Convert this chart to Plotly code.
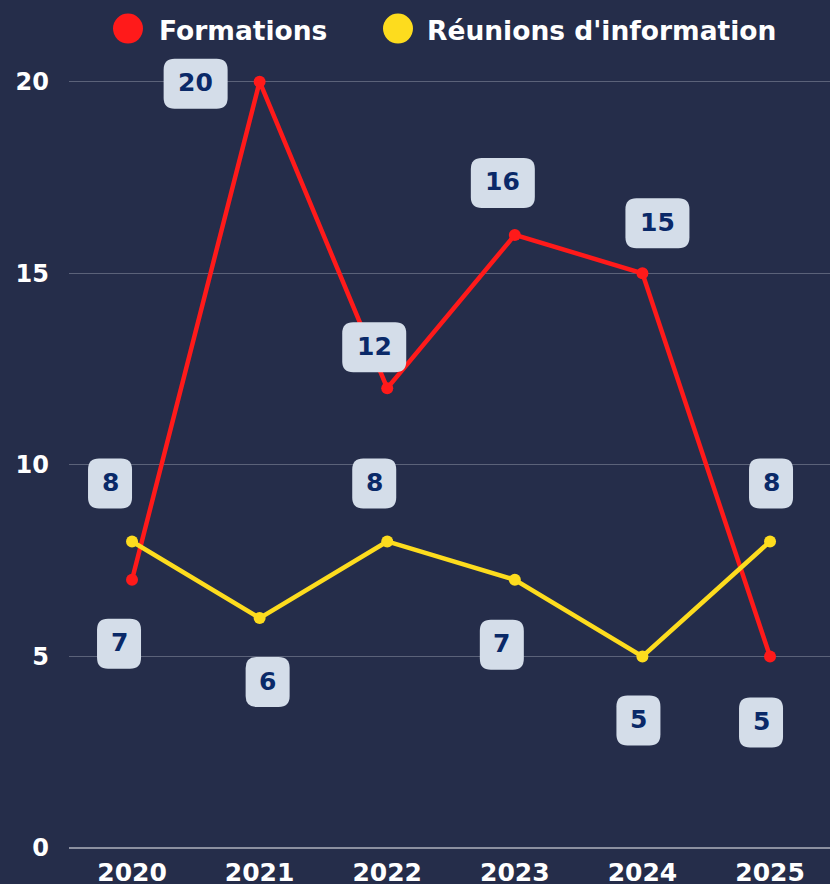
import plotly.graph_objects as go

# ---- data ----
years = [2020, 2021, 2022, 2023, 2024, 2025]
formations = [7, 20, 12, 16, 15, 5]
reunions = [8, 6, 8, 7, 5, 8]
series_names = ["Formations", "Réunions d'information"]
y_ticks = [0, 5, 10, 15, 20]

# ---- style ----
BG = "#252d4a"
RED = "#ff1a1a"
YELLOW = "#fddc1e"
BOX = "#d4dde9"
NAVY = "#0a2968"
GRID = "#5b6279"
FONT = "DejaVu Sans"

W, H = 830, 884
ML, MR, MB = 69, 0, 36
PLOT_TOP = 5.4  # y range extends to 22 so that 20 sits at ~82px
PLOT_BOTTOM = H - MB
PLOT_H = PLOT_BOTTOM - PLOT_TOP
PLOT_W = W - ML - MR

# label offsets in pixels (dx right, dy down) relative to each point
form_off = [(-13, 64), (-64, 2), (-13, -41), (-12, -52), (15, -50), (-9, 66)]
reun_off = [(-22, -58), (8, 64), (-13, -58), (-13, 65), (-4, 64), (1, -58)]

fig = go.Figure()
fig.add_trace(go.Scatter(x=years, y=formations, mode="lines+markers", name=series_names[0],
                         line=dict(color=RED, width=4.5), marker=dict(size=12, color=RED),
                         cliponaxis=False, showlegend=False, hoverinfo="skip"))
fig.add_trace(go.Scatter(x=years, y=reunions, mode="lines+markers", name=series_names[1],
                         line=dict(color=YELLOW, width=4.5), marker=dict(size=12, color=YELLOW),
                         cliponaxis=False, showlegend=False, hoverinfo="skip"))


def rounded_path(w, h, r, dx, dy):
    x0, x1 = -w / 2 + dx, w / 2 + dx
    y0, y1 = -h / 2 - dy, h / 2 - dy
    return (f"M {x0+r},{y0} L {x1-r},{y0} Q {x1},{y0} {x1},{y0+r} "
            f"L {x1},{y1-r} Q {x1},{y1} {x1-r},{y1} L {x0+r},{y1} "
            f"Q {x0},{y1} {x0},{y1-r} L {x0},{y0+r} Q {x0},{y0} {x0+r},{y0} Z")


shapes = []
annotations = []
for vals, offs in ((formations, form_off), (reunions, reun_off)):
    for x, v, (dx, dy) in zip(years, vals, offs):
        txt = str(v)
        w = 24 + 20 * len(txt)
        h = 50
        shapes.append(dict(type="path", xref="x", yref="y", xsizemode="pixel", ysizemode="pixel",
                           xanchor=x, yanchor=v, path=rounded_path(w, h, 11, dx, dy),
                           fillcolor=BOX, line=dict(width=0), layer="above"))
        annotations.append(dict(x=x, y=v, xref="x", yref="y", text=txt, showarrow=False,
                                xshift=dx, yshift=-dy + 1,
                                font=dict(family=FONT, size=25, color=NAVY, weight="bold")))


def px_to_paper(px, py):
    return (px - ML) / PLOT_W, (PLOT_BOTTOM - py) / PLOT_H


# manual legend (large dots)
legend_items = [(series_names[0], RED, 128, 157), (series_names[1], YELLOW, 398, 425)]
for name, col, cx, tx in legend_items:
    ax, ay = px_to_paper(cx, 29)
    shapes.append(dict(type="circle", xref="paper", yref="paper", xsizemode="pixel", ysizemode="pixel",
                       xanchor=ax, yanchor=ay,
                       x0=-15, x1=15, y0=-15, y1=15, fillcolor=col, line=dict(width=0)))
    tx_p, ty_p = px_to_paper(tx, 31)
    annotations.append(dict(x=tx_p, y=ty_p, xref="paper", yref="paper",
                            xanchor="left", yanchor="middle", text=name, showarrow=False,
                            font=dict(family=FONT, size=26.5, color="white", weight="bold")))

fig.update_layout(
    width=W, height=H,
    margin=dict(l=ML, r=MR, t=PLOT_TOP, b=MB, autoexpand=False),
    paper_bgcolor=BG, plot_bgcolor=BG,
    showlegend=False, hovermode=False,
    shapes=shapes, annotations=annotations,
    xaxis=dict(range=[2019.506, 2025.47], tickvals=years, ticktext=[str(y) for y in years],
               showgrid=False, zeroline=False, showline=False, ticks="", automargin=False,
               ticklabelstandoff=7,
               tickfont=dict(family=FONT, size=25, color="white", weight="bold")),
    yaxis=dict(range=[0, 22], tickvals=y_ticks, showgrid=True, gridcolor=GRID, gridwidth=1,
               zeroline=True, zerolinecolor="#8c90a0", zerolinewidth=1.5, showline=False, ticks="",
               automargin=False, ticklabelstandoff=19,
               tickfont=dict(family=FONT, size=24, color="white", weight="bold")),
)

fig.write_html("out.html", config={"displayModeBar": False},
               post_script="document.body.style.margin='0';document.body.style.background='%s';" % BG)
